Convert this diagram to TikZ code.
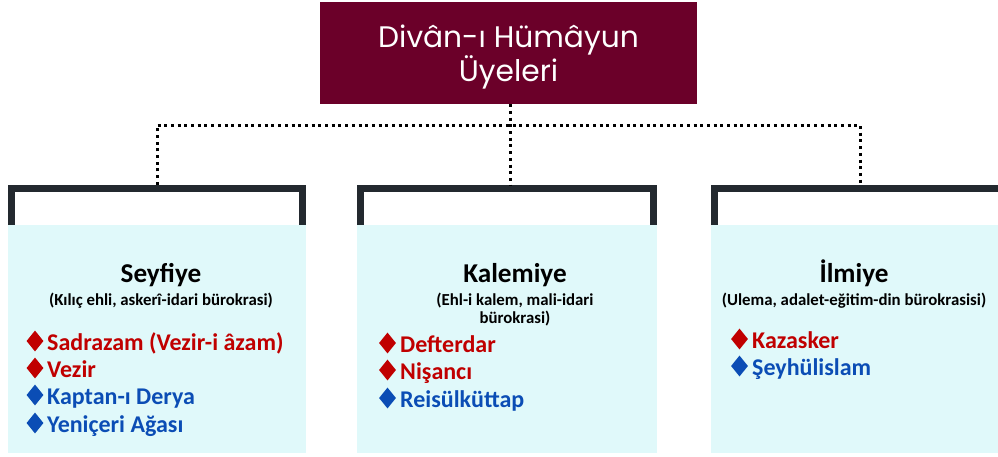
\documentclass[tikz,border=0pt]{standalone}
\usepackage{fontspec}
\setmainfont{Carlito}
\newfontfamily\titlefont{Poppins}
\usetikzlibrary{shapes.geometric}
\definecolor{maroon}{HTML}{6B0029}
\definecolor{itemred}{HTML}{C00000}
\definecolor{itemblue}{HTML}{0B4DB5}
\definecolor{cyanbg}{HTML}{E0F9FA}
\definecolor{framecol}{HTML}{23292F}
\tikzset{
  topbox/.style={rectangle, fill=maroon, minimum width=377pt, minimum height=102pt, inner sep=0pt},
  titletext/.style={text=white, font=\titlefont\fontsize{29.7}{34}\selectfont, inner sep=0pt},
  boxarea/.style={rectangle, minimum height=268pt, inner sep=0pt},
  bracketline/.style={draw=framecol, line width=7pt},
  dotline/.style={line width=3pt, dash pattern=on 3pt off 3.7pt, black},
  headtext/.style={font=\bfseries\fontsize{27.2}{32}\selectfont, inner sep=0pt, anchor=base},
  subtext/.style={font=\bfseries\fontsize{16.8}{18}\selectfont, inner sep=0pt, anchor=base, align=center},
  itemtext/.style={font=\bfseries\fontsize{24}{27}\selectfont, inner sep=0pt, anchor=base west},
  bullet/.style={diamond, inner sep=0pt, minimum width=17pt, minimum height=21pt},
  redi/.style={itemtext, text=itemred},
  bluei/.style={itemtext, text=itemblue},
  redb/.style={bullet, fill=itemred},
  blueb/.style={bullet, fill=itemblue},
}
\begin{document}
\begin{tikzpicture}[x=1pt, y=-1pt]
\useasboundingbox (0,0) rectangle (998,456);
\clip (0,0) rectangle (998,456);
\fill[white] (0,0) rectangle (998,456);

% top box
\node[topbox] (top) at (508.5,53) {};
\node[titletext, anchor=base] (t1) at (508.5,47) {Divân-ı Hümâyun};
\node[titletext, anchor=base] (t2) at (508.5,81) {Üyeleri};

% column areas
\node[boxarea, minimum width=298pt] (lbox) at (157,319) {};
\node[boxarea, minimum width=300pt] (mbox) at (507,319) {};
\node[boxarea, minimum width=298pt] (rbox) at (860,319) {};

% brackets and fills
\draw[bracketline] (11.5,226) -- (11.5,188.5) -- (302.5,188.5) -- (302.5,226);
\draw[bracketline] (360.5,226) -- (360.5,188.5) -- (653.5,188.5) -- (653.5,226);
\draw[bracketline] (714.5,226) -- (714.5,188.5) -- (1005.5,188.5) -- (1005.5,226);
\fill[cyanbg] (8,225) rectangle (306,453);
\fill[cyanbg] (357,225) rectangle (657,453);
\fill[cyanbg] (711,225) rectangle (1009,453);

% connectors
\coordinate (bus) at (510,125);
\coordinate (midtop) at (510,186);
\draw[dotline] (top.south -| midtop) -- (midtop);
\draw[dotline] (lbox.north) -- (lbox.north |- bus) -- (rbox.north |- bus) -- (rbox.north);

% left column
\node[headtext] (lh) at (161,282) {Seyfiye};
\node[subtext] (ls) at (161,305) {(Kılıç ehli, askerî-idari bürokrasi)};
\node[redb] (lb1) at (35,341) {};
\node[redi] (li1) at (47,350) {Sadrazam (Vezir-i âzam)};
\node[redb] (lb2) at (35,368) {};
\node[redi] (li2) at (47,377) {Vezir};
\node[blueb] (lb3) at (35,395) {};
\node[bluei] (li3) at (47,404) {Kaptan-ı Derya};
\node[blueb] (lb4) at (35,423) {};
\node[bluei] (li4) at (47,432) {Yeniçeri Ağası};

% middle column
\node[headtext] (mh) at (515,282) {Kalemiye};
\node[subtext] (ms) at (515,323) {(Ehl-i kalem, mali-idari\\bürokrasi)};
\node[redb] (mb1) at (387.5,343) {};
\node[redi] (mi1) at (400,352) {Defterdar};
\node[redb] (mb2) at (387.5,370) {};
\node[redi] (mi2) at (400,379) {Nişancı};
\node[blueb] (mb3) at (387.5,398) {};
\node[bluei] (mi3) at (400,407) {Reisülküttap};

% right column
\node[headtext] (rh) at (854,282) {İlmiye};
\node[subtext] (rs) at (854,305) {(Ulema, adalet-eğitim-din bürokrasisi)};
\node[redb] (rb1) at (739.5,339) {};
\node[redi] (ri1) at (752,348) {Kazasker};
\node[blueb] (rb2) at (739.5,366) {};
\node[bluei] (ri2) at (752,375) {Şeyhülislam};
\end{tikzpicture}
\end{document}
